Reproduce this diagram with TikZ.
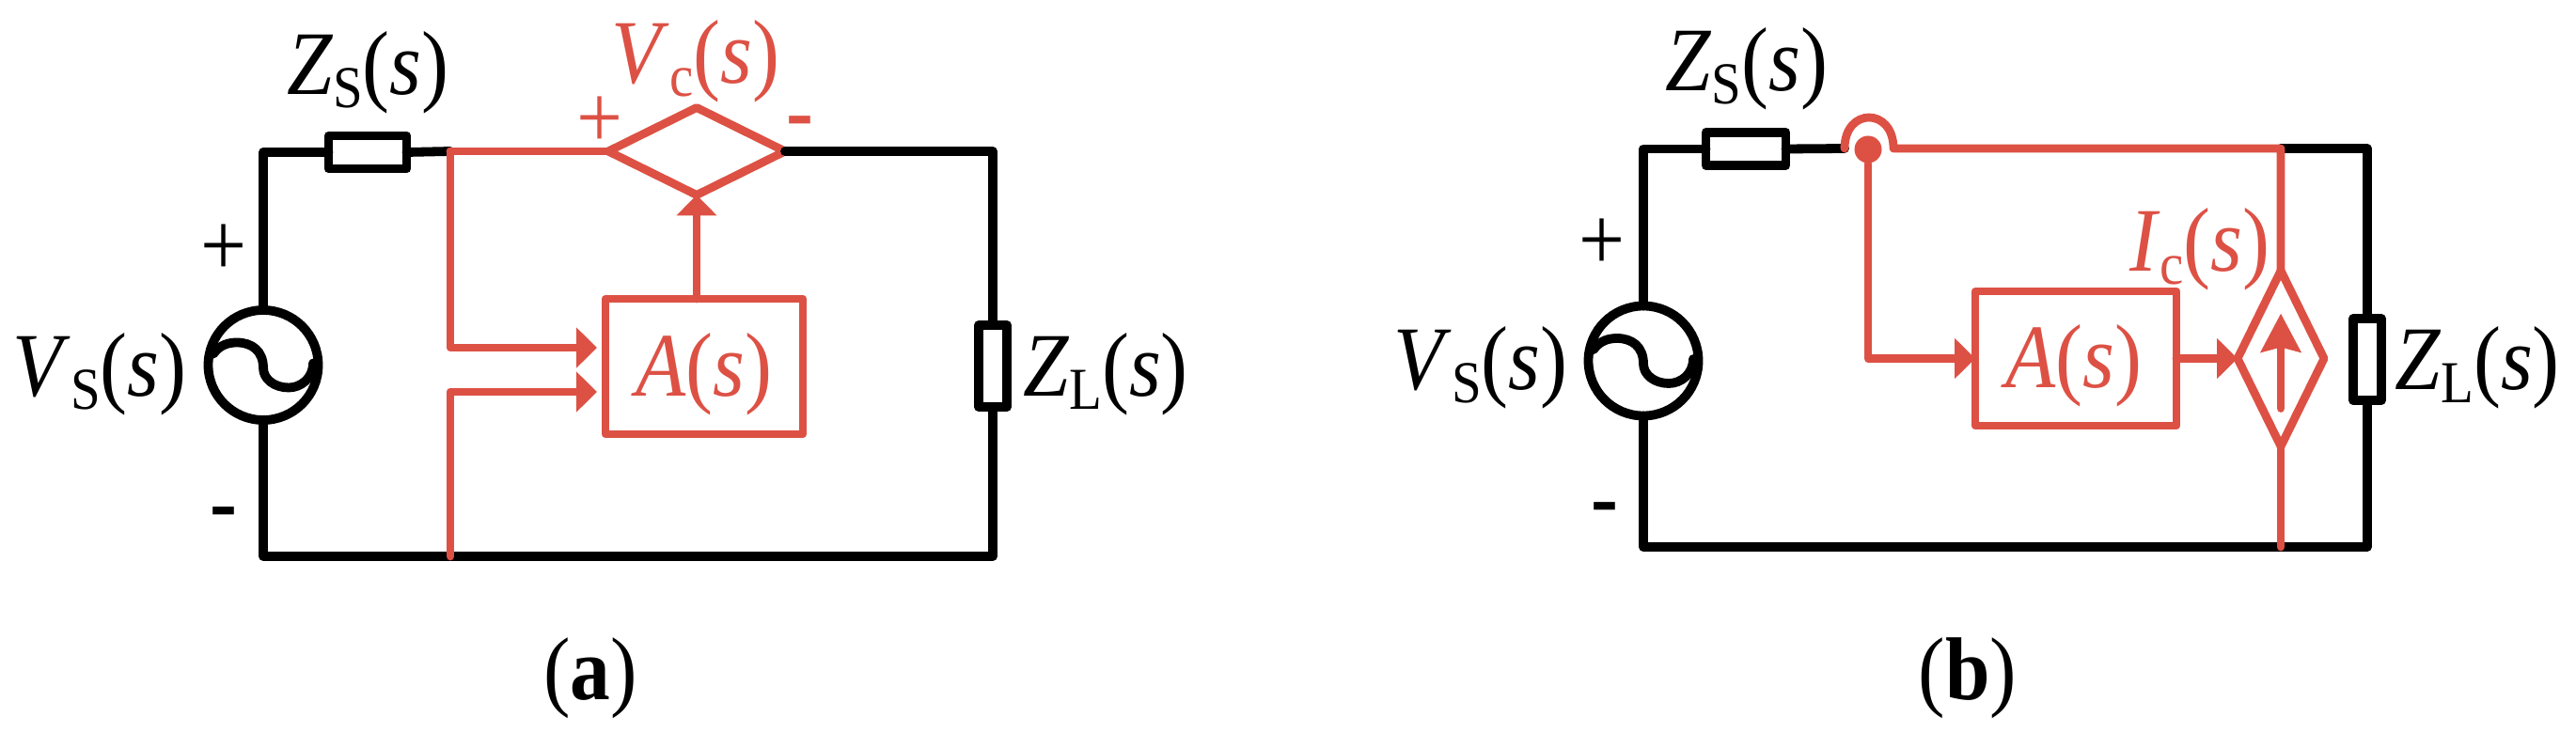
\documentclass[tikz,border=0pt]{standalone}
\usepackage{fontspec}
\setmainfont[FakeStretch=.9]{Liberation Serif}
\usetikzlibrary{shapes.geometric,arrows.meta}
\definecolor{ctrlred}{HTML}{DD5145}
\newcommand{\funcname}[2]{\textit{#1}\raisebox{-.15em}{\fontsize{18pt}{18pt}\selectfont #2}(\textit{s})}
\newcommand{\sinewave}[1]{\draw[wire] ([shift={(-.53,.12)}]#1.center)
  .. controls +(.07,.10) and +(-.08,0) .. ([shift={(-.28,.24)}]#1.center)
  .. controls +(.16,0) and +(0,.18) .. ([shift={(0,-.03)}]#1.center)
  .. controls +(0,-.12) and +(-.15,0) .. ([shift={(.27,-.24)}]#1.center)
  .. controls +(.13,0) and +(0,-.16) .. ([shift={(.53,.02)}]#1.center);}
\tikzset{
  wire/.style={draw=black,line width=.098cm,line cap=round,line join=round},
  ctrl/.style={draw=ctrlred,line width=.088cm,line cap=round,line join=round},
  headwire/.style={ctrl,-{Triangle[length=.22cm,width=.42cm]}},
  source/.style={circle,wire,minimum size=1.17cm,inner sep=0,outer sep=0},
  imp/.style={rectangle,wire,fill=white,inner sep=0,outer sep=0},
  block/.style={rectangle,ctrl,inner sep=0,outer sep=0,minimum width=2.1cm,minimum height=1.44cm},
  dep/.style={diamond,ctrl,inner sep=0,outer sep=0},
  lbl/.style={font=\fontsize{27.5pt}{27.5pt}\selectfont,inner sep=0},
  redlbl/.style={lbl,text=ctrlred},
  capt/.style={font=\fontsize{27pt}{27pt}\selectfont,inner sep=0}
}
\begin{document}
\begin{tikzpicture}
   \useasboundingbox (0,0) rectangle (27.4,-7.8);
   % left circuit
   \node[source] (vs1) at (2.8,-3.885) {};
   \node[imp,minimum width=.83cm,minimum height=.35cm] (zs1) at (3.91,-1.62) {};
   \node[imp,minimum width=.3cm,minimum height=.87cm] (zl1) at (10.56,-3.895) {};
   \node[block] (amp1) at (7.49,-3.9) {};
   \node[dep,minimum width=1.88cm,minimum height=.93cm] (vc1) at (7.41,-1.61) {};
   \coordinate (tap1) at (4.79,-1.61);
   \coordinate (gnd1) at (4.79,-5.92);
   \coordinate (in1) at (6.35,-3.70);
   \coordinate (in2) at (6.35,-4.17);

   \sinewave{vs1}
   \draw[wire] (vs1.north) |- (zs1.west);
   \draw[wire] (zs1.east) -- (tap1);
   \draw[wire] (vc1.east) -| (zl1.north);
   \draw[wire] (zl1.south) |- (gnd1) -| (vs1.south);

   \draw[ctrl] (tap1) -- (vc1.west);
   \draw[headwire] (tap1) |- (in1);
   \draw[headwire] (gnd1) |- (in2);
   \draw[headwire] (vc1.south |- amp1.north) -- (vc1.south);

   \node[lbl] (zs1t) at (3.915,-.77) {\funcname{Z}{S}};
   \node[lbl] (vs1t) at (1.06,-3.98) {\funcname{V}{S}};
   \node[lbl] (zl1t) at (11.76,-3.98) {\funcname{Z}{L}};
   \node[redlbl] (vc1t) at (7.4,-.65) {\funcname{V}{c}};
   \node[redlbl] (amp1t) at (7.49,-3.98) {\textit{A}(\textit{s})};
   \node[lbl] (p1) at (2.38,-2.66) {+};
   \node[lbl] (m1) at (2.38,-5.53) {\textbf{-}};
   \node[redlbl] (p1c) at (6.38,-1.3) {+};
   \node[redlbl] (m1c) at (8.51,-1.37) {\textbf{-}};
   \node[capt] (a) at (6.28,-7.22) {(\textbf{a})};

   % right circuit
   \node[source] (vs2) at (17.48,-3.84) {};
   \node[imp,minimum width=.85cm,minimum height=.35cm] (zs2) at (18.57,-1.585) {};
   \node[imp,minimum width=.3cm,minimum height=.87cm] (zl2) at (25.18,-3.825) {};
   \node[block,minimum width=2.14cm,minimum height=1.43cm] (amp2) at (22.08,-3.815) {};
   \node[dep,minimum width=.92cm,minimum height=1.87cm] (id2) at (24.26,-3.815) {};
   \node[circle,fill=ctrlred,minimum size=.29cm,inner sep=0] (tap2) at (19.87,-1.59) {};
   \coordinate (hopl) at (19.62,-1.58);
   \coordinate (hopr) at (20.14,-1.58);
   \coordinate (top2) at (24.26,-1.58);
   \coordinate (bot2) at (24.26,-5.82);

   \sinewave{vs2}
   \draw[wire] (vs2.north) |- (zs2.west);
   \draw[wire] (zs2.east) -- (hopl);
   \draw[wire] (top2) -| (zl2.north);
   \draw[wire] (zl2.south) |- (bot2) -| (vs2.south);

   \draw[ctrl] (hopl) .. controls (19.62,-1.14) and (20.14,-1.14) .. (hopr) -- (top2) -- (id2.north);
   \draw[ctrl] (id2.south) -- (bot2);
   \draw[headwire] (tap2) |- (amp2.west);
   \draw[headwire] (amp2.east) -- (id2.west);
   \draw[ctrl,-{Stealth[length=.41cm,width=.42cm,inset=.05cm]}] ([yshift=-.53cm]id2.center) -- ([yshift=.48cm]id2.center);

   \node[lbl] (zs2t) at (18.58,-.73) {\funcname{Z}{S}};
   \node[lbl] (vs2t) at (15.75,-3.91) {\funcname{V}{S}};
   \node[lbl] (zl2t) at (26.35,-3.91) {\funcname{Z}{L}};
   \node[redlbl] (ic2t) at (23.4,-2.65) {\funcname{I}{c}};
   \node[redlbl] (amp2t) at (22.06,-3.89) {\textit{A}(\textit{s})};
   \node[lbl] (p2) at (17.04,-2.6) {+};
   \node[lbl] (m2) at (17.07,-5.48) {\textbf{-}};
   \node[capt] (b) at (20.93,-7.22) {(\textbf{b})};
\end{tikzpicture}
\end{document}
